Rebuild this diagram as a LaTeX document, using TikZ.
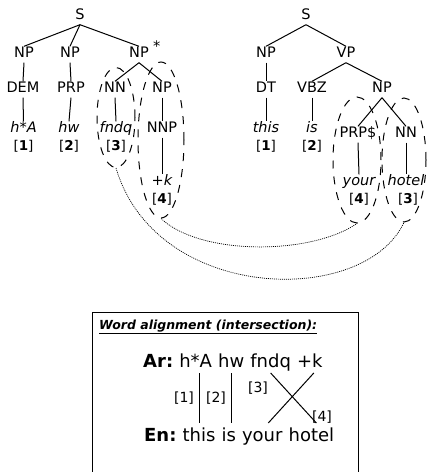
\documentclass[tikz,border=0pt]{standalone}
\usepackage{fontspec}
\setmainfont{DejaVu Sans}
\usetikzlibrary{shapes.geometric,calc}
\begin{document}
\begin{tikzpicture}[x=1pt,y=-1pt,
  tn/.style={anchor=base, inner sep=3pt, text height=0.75em, text depth=0.25em, font=\fontsize{14.5}{16}\selectfont},
  tw/.style={tn, font=\fontsize{14.5}{16}\selectfont\itshape},
  idx/.style={anchor=base, inner sep=1pt, font=\fontsize{13.5}{15}\selectfont},
  edge/.style={line width=1pt},
  grp/.style={draw, ellipse, dash pattern=on 8pt off 8pt, line width=1pt, inner sep=0pt},
  link/.style={dash pattern=on 1pt off 1pt, line width=0.7pt},
  bw/.style={anchor=base west, inner sep=0pt, font=\fontsize{18}{21}\selectfont},
  al/.style={inner sep=0pt, font=\fontsize{14}{16}\selectfont}
]
\useasboundingbox (0,0) rectangle (427,472);
% left tree
\node[tn] (lS) at (80,19) {S};
\node[tn] (lNP1) at (24,57) {NP};
\node[tn] (lNP2) at (70,57) {NP};
\node[tn] (lNP3) at (139,57) {NP\rlap{\hspace{0.3em}\raisebox{0.35em}{*}}};
\node[tn] (lDEM) at (23,92) {DEM};
\node[tn] (lPRP) at (71,92) {PRP};
\node[tn] (lNN) at (115,92) {NN};
\node[tn] (lNP4) at (162,92) {NP};
\node[tw] (lw1) at (23.5,132) {h*A};
\node[tw] (lw2) at (69,132) {hw};
\node[tw] (lw3) at (116,132) {fndq};
\node[tn] (lNNP) at (162,132) {NNP};
\node[tw] (lw4) at (162,185) {+k};
\node[idx] (li1) at (23.5,150) {[\textbf{1}]};
\node[idx] (li2) at (69,150) {[\textbf{2}]};
\node[idx] (li3) at (116,150) {[\textbf{3}]};
\node[idx] (li4) at (162,203) {[\textbf{4}]};
\foreach \a/\b in {lS/lNP1,lS/lNP2,lS/lNP3,lNP1/lDEM,lNP2/lPRP,lDEM/lw1,lPRP/lw2,lNP3/lNN,lNP3/lNP4,lNN/lw3,lNP4/lNNP,lNNP/lw4}
  \draw[edge] (\a.south) -- (\b.north);
% right tree
\node[tn] (rS) at (306,19) {S};
\node[tn] (rNP) at (266,57) {NP};
\node[tn] (rVP) at (346,57) {VP};
\node[tn] (rDT) at (266,92) {DT};
\node[tn] (rVBZ) at (312,92) {VBZ};
\node[tn] (rNP2) at (382,92) {NP};
\node[tw] (rw1) at (266,132) {this};
\node[tw] (rw2) at (312,132) {is};
\node[idx] (ri1) at (266,150) {[\textbf{1}]};
\node[idx] (ri2) at (312,150) {[\textbf{2}]};
\node[tn] (rPRPS) at (358,137) {PRP\$};
\node[tn] (rNN) at (406,137) {NN};
\node[tw] (rw3) at (359,185) {your};
\node[tw] (rw4) at (406,185) {hotel};
\node[idx] (ri4) at (359,203) {[\textbf{4}]};
\node[idx] (ri3) at (408,203) {[\textbf{3}]};
\foreach \a/\b in {rS/rNP,rS/rVP,rNP/rDT,rDT/rw1,rVP/rVBZ,rVP/rNP2,rVBZ/rw2,rNP2/rPRPS,rNP2/rNN,rPRPS/rw3,rNN/rw4}
  \draw[edge] (\a.south) -- (\b.north);
% groups
\node[grp, minimum width=38pt, minimum height=100pt] (g1) at (116,117.5) {};
\node[grp, minimum width=46pt, minimum height=156pt] (g2) at (161,140) {};
\node[grp, minimum width=48pt, minimum height=126pt] (g3) at (357,160) {};
\node[grp, minimum width=44pt, minimum height=124pt] (g4) at (404,160) {};
\draw[link] (g1.south) .. controls +(40,135) and +(-40,85) .. (g4.south);
\draw[link] (g2.south) .. controls +(39,37) and +(-47,32) .. (g3.south);
% box
\draw[line width=1pt] (92,472) -- (92,312) -- (358,312) -- (358,472);
\node[anchor=base west, inner sep=0pt, font=\fontsize{12.5}{14}\selectfont\bfseries\itshape] (title) at (99,329) {\underline{Word alignment (intersection):}};
\node[bw] (ar0) at (143,367) {\textbf{Ar:}};
\node[bw] (ar1) at ([xshift=5.7pt]ar0.base east) {h*A};
\node[bw] (ar2) at ([xshift=5.7pt]ar1.base east) {hw};
\node[bw] (ar3) at ([xshift=5.7pt]ar2.base east) {fndq};
\node[bw] (ar4) at ([xshift=5.7pt]ar3.base east) {+k};
\node[bw] (en0) at (144,441) {\textbf{En:}};
\node[bw] (en1) at ([xshift=5.7pt]en0.base east) {this};
\node[bw] (en2) at ([xshift=5.7pt]en1.base east) {is};
\node[bw] (en3) at ([xshift=5.7pt]en2.base east) {your};
\node[bw] (en4) at ([xshift=5.7pt]en3.base east) {hotel};
\draw[edge] ($(ar1.base -| en1.base)+(0,6)$) -- ($(en1.base)+(0,-18)$);
\draw[edge] ($(ar2.base)+(0,6)$) -- ($(ar2.base |- en2.base)+(0,-18)$);
\draw[edge] ($(ar3.base)+(0,6)$) -- ($(en4.base)+(5,-18)$);
\draw[edge] ($(ar4.base)+(4,6)$) -- ($(en3.base)+(6,-18)$);
\node[al] (a1) at (184,398) {[1]};
\node[al] (a2) at (216,398) {[2]};
\node[al] (a3) at (258,388) {[3]};
\node[al] (a4) at (322,417) {[4]};
\end{tikzpicture}
\end{document}
